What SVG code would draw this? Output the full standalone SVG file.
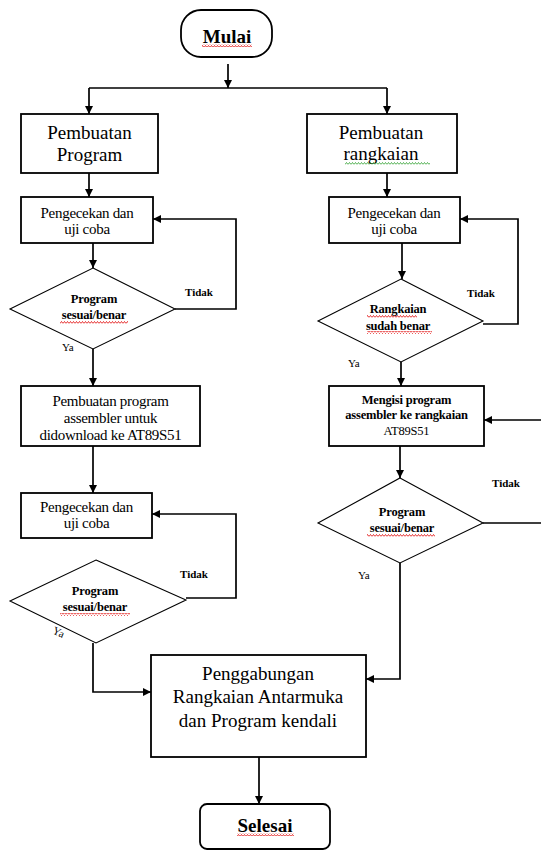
<svg xmlns="http://www.w3.org/2000/svg" width="541" height="852" viewBox="0 0 541 852">
<style>
  .box{fill:#fff;stroke:#000;stroke-width:1.8}
  .dia{fill:#fff;stroke:#000;stroke-width:1.1}
  .con{fill:none;stroke:#000;stroke-width:1.7}
  .big{font-family:"Liberation Serif",serif;font-size:19px;text-anchor:middle;fill:#000}
  .mid{font-family:"Liberation Serif",serif;font-size:15px;text-anchor:middle;fill:#000;letter-spacing:-0.3px}
  .sm{font-family:"Liberation Serif",serif;font-size:12.5px;font-weight:bold;text-anchor:middle;fill:#000;letter-spacing:-0.2px}
  .term{font-family:"Liberation Serif",serif;font-size:19px;font-weight:bold;text-anchor:middle;fill:#000}
  .lbl{font-family:"Liberation Serif",serif;font-size:11px;font-weight:bold;fill:#000}
  .ya{font-family:"Liberation Serif",serif;font-size:11px;fill:#000}
</style>
<defs>
  <marker id="ah" viewBox="0 0 10 10" refX="10" refY="5" markerWidth="10" markerHeight="8" markerUnits="userSpaceOnUse" orient="auto">
    <path d="M0,0 L10,5 L0,10 z" fill="#000"/>
  </marker>
  <pattern id="wr" width="3" height="3" patternUnits="userSpaceOnUse">
    <path d="M0,2.5 L1.5,0.5 L3,2.5" fill="none" stroke="#e00000" stroke-width="0.8"/>
  </pattern>
  <pattern id="wg" width="3" height="3" patternUnits="userSpaceOnUse">
    <path d="M0,2.5 L1.5,0.5 L3,2.5" fill="none" stroke="#2a9d2a" stroke-width="0.8"/>
  </pattern>
</defs>

<g id="connectors">
  <path class="con" d="M228,64 V88" marker-end="url(#ah)"/>
  <path class="con" d="M89,88 H387"/>
  <path class="con" d="M89,88 V114" marker-end="url(#ah)"/>
  <path class="con" d="M387,88 V114" marker-end="url(#ah)"/>
  <path class="con" d="M89,173 V197" marker-end="url(#ah)"/>
  <path class="con" d="M387,173 V197" marker-end="url(#ah)"/>
  <path class="con" d="M93,243 V268" marker-end="url(#ah)"/>
  <path class="con" d="M402,243 V279" marker-end="url(#ah)"/>
  <path class="con" d="M175,309 H236 V219 H153" marker-end="url(#ah)"/>
  <path class="con" d="M483,324 H518 V219 H460" marker-end="url(#ah)"/>
  <path class="con" d="M93,349 V386" marker-end="url(#ah)"/>
  <path class="con" d="M401,362 V386" marker-end="url(#ah)"/>
  <path class="con" d="M93,446 V493" marker-end="url(#ah)"/>
  <path class="con" d="M400,446 V478" marker-end="url(#ah)"/>
  <path class="con" d="M186,598 H236 V514 H152" marker-end="url(#ah)"/>
  <path class="con" d="M483,523 H548 V420 H484" marker-end="url(#ah)"/>
  <path class="con" d="M93,643 V692 H151" marker-end="url(#ah)"/>
  <path class="con" d="M400,563 V679 H366" marker-end="url(#ah)"/>
  <path class="con" d="M259,757 V804" marker-end="url(#ah)"/>
</g>

<g id="mulai">
  <rect class="box" x="181" y="10" width="91" height="47" rx="20"/>
  <text class="term" x="227" y="43">Mulai</text>
  <rect x="202" y="44" width="50" height="3" fill="url(#wr)"/>
</g>

<g id="pembuatan-program">
  <rect class="box" x="21" y="114" width="137" height="59"/>
  <text class="big" x="89.5" y="139">Pembuatan</text>
  <text class="big" x="89.5" y="161">Program</text>
</g>

<g id="pembuatan-rangkaian">
  <rect class="box" x="307" y="114" width="150" height="59"/>
  <text class="big" x="381" y="139">Pembuatan</text>
  <text class="big" x="381" y="160">rangkaian</text>
  <rect x="345" y="162" width="85" height="3" fill="url(#wg)"/>
</g>

<g id="cek-program-1">
  <rect class="box" x="21" y="197" width="132" height="46"/>
  <text class="mid" x="87" y="218">Pengecekan dan</text>
  <text class="mid" x="87" y="234">uji coba</text>
</g>

<g id="cek-rangkaian">
  <rect class="box" x="329" y="197" width="131" height="46"/>
  <text class="mid" x="394" y="218">Pengecekan dan</text>
  <text class="mid" x="394" y="234">uji coba</text>
</g>

<g id="dec-program-1">
  <polygon class="dia" points="93,268 175,309 93,349 10,309"/>
  <text class="sm" x="94" y="303">Program</text>
  <text class="sm" x="94" y="319">sesuai/benar</text>
  <rect x="60" y="321" width="68" height="3" fill="url(#wr)"/>
  <text class="lbl" x="185" y="296">Tidak</text>
  <text class="ya" x="62" y="351">Ya</text>
</g>

<g id="dec-rangkaian">
  <polygon class="dia" points="401,279 483,321 401,362 318,321"/>
  <text class="sm" x="398" y="313">Rangkaian</text>
  <text class="sm" x="398" y="330">sudah benar</text>
  <rect x="367" y="315" width="50" height="3" fill="url(#wr)"/>
  <rect x="367" y="331" width="65" height="3" fill="url(#wr)"/>
  <text class="lbl" x="467" y="297">Tidak</text>
  <text class="ya" x="348" y="367">Ya</text>
</g>

<g id="assembler">
  <rect class="box" x="21" y="386" width="179" height="60"/>
  <text class="mid" x="110.5" y="406">Pembuatan program</text>
  <text class="mid" x="110.5" y="423">assembler untuk</text>
  <text class="mid" x="110.5" y="440">didownload ke AT89S51</text>
</g>

<g id="mengisi">
  <rect class="box" x="329" y="386" width="155" height="60"/>
  <text class="sm" x="406.5" y="404">Mengisi program</text>
  <text class="sm" x="406.5" y="419">assembler ke rangkaian</text>
  <text class="sm" x="406.5" y="435" style="font-weight:normal">AT89S51</text>
</g>

<g id="cek-program-2">
  <rect class="box" x="21" y="493" width="131" height="45"/>
  <text class="mid" x="86.5" y="512">Pengecekan dan</text>
  <text class="mid" x="86.5" y="528">uji coba</text>
</g>

<g id="dec-program-2">
  <polygon class="dia" points="96,560 186,600 96,643 10,601"/>
  <text class="sm" x="95" y="595">Program</text>
  <text class="sm" x="95" y="611">sesuai/benar</text>
  <rect x="60" y="613" width="70" height="3" fill="url(#wr)"/>
  <text class="lbl" x="180" y="578">Tidak</text>
  <text class="ya" x="53" y="636" transform="rotate(25 59 632)">Ya</text>
</g>

<g id="dec-program-3">
  <polygon class="dia" points="400,478 483,523 400,563 318,523"/>
  <text class="sm" x="402" y="516">Program</text>
  <text class="sm" x="402" y="532">sesuai/benar</text>
  <rect x="367" y="534" width="68" height="3" fill="url(#wr)"/>
  <text class="lbl" x="492" y="487">Tidak</text>
  <text class="ya" x="358" y="579">Ya</text>
</g>

<g id="penggabungan">
  <rect class="box" x="151" y="655" width="215" height="102"/>
  <text class="big" x="258" y="680">Penggabungan</text>
  <text class="big" x="258" y="703">Rangkaian Antarmuka</text>
  <text class="big" x="258" y="727">dan Program kendali</text>
</g>

<g id="selesai">
  <rect class="box" x="200" y="804" width="130" height="45" rx="7"/>
  <text class="term" x="265" y="832">Selesai</text>
  <rect x="237" y="833" width="57" height="3" fill="url(#wr)"/>
</g>
</svg>
